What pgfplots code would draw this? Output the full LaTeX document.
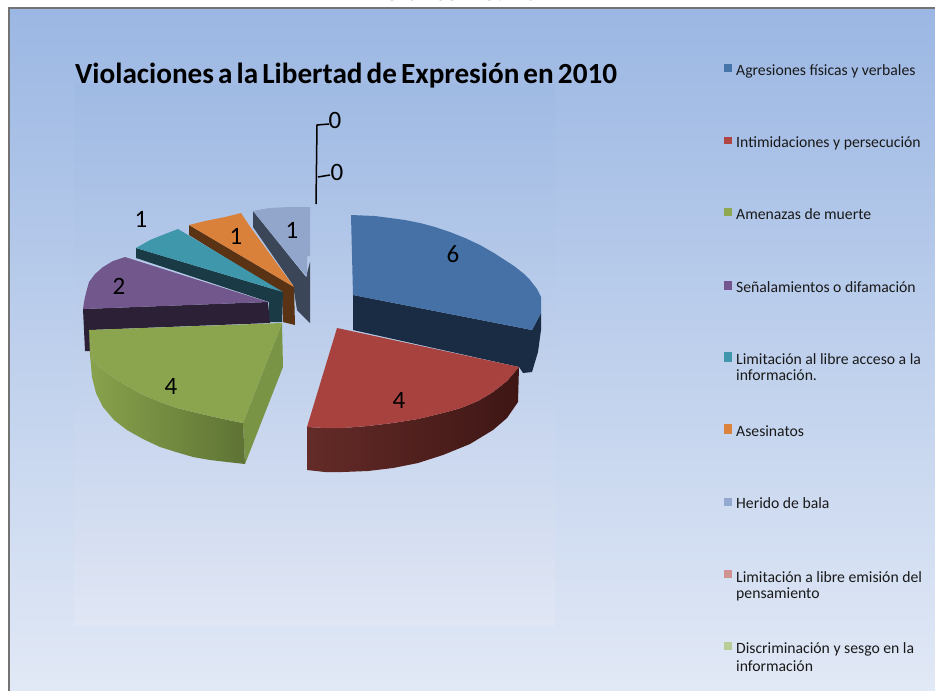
\documentclass[border=0pt]{standalone}
\usepackage{pgfplots}
\pgfplotsset{compat=1.18}
\usepackage{fontspec}
\setmainfont{Carlito}
\definecolor{pTop}{HTML}{9BB7E3}\definecolor{pBot}{HTML}{E2E9F6}
\definecolor{iTop}{HTML}{9FBAE3}\definecolor{iBot}{HTML}{E0E6F4}
\definecolor{cA}{HTML}{4571A6}\definecolor{cAs}{HTML}{1A2C43}
\definecolor{cB}{HTML}{A8423F}\definecolor{cBl}{HTML}{642B28}\definecolor{cBr}{HTML}{3E1614}
\definecolor{cC}{HTML}{8AA54E}\definecolor{cCl}{HTML}{88A24C}\definecolor{cCr}{HTML}{5E7334}\definecolor{cCf}{HTML}{7A9445}
\definecolor{cD}{HTML}{72578D}\definecolor{cDs}{HTML}{2C2037}
\definecolor{cE}{HTML}{3F97AB}\definecolor{cEs}{HTML}{1A3B46}
\definecolor{cF}{HTML}{D9803A}\definecolor{cFs}{HTML}{5A3314}
\definecolor{cG}{HTML}{92A5CB}\definecolor{cGs}{HTML}{3B4759}
\definecolor{lA}{HTML}{4674A8}\definecolor{lB}{HTML}{B04644}\definecolor{lC}{HTML}{8FA854}
\definecolor{lD}{HTML}{75558F}\definecolor{lE}{HTML}{4196AB}\definecolor{lF}{HTML}{DB843D}
\definecolor{lG}{HTML}{93A9CF}\definecolor{lH}{HTML}{D19392}\definecolor{lI}{HTML}{B9CD96}
\newcommand{\swatch}[3]{\addplot[fill=#1,draw=none] coordinates {(724,#2) (732,#2) (732,#3) (724,#3)} --cycle;}
\newcommand{\leg}[3]{\node[anchor=base west,inner sep=0pt,font=\fontsize{15.7}{18}\selectfont,text=black!90] at (axis cs:#1,#2+1) {#3};}
\newcommand{\val}[3]{\node[anchor=center,inner sep=0pt,font=\fontsize{25}{28}\selectfont] at (axis cs:#1,#2) {#3};}
\begin{document}
\begin{tikzpicture}
\useasboundingbox (0,0) rectangle (935pt,691pt);
\clip (0,0) rectangle (935pt,691pt);
\begin{axis}[at={(0,0)},anchor=south west,scale only axis,width=935pt,height=691pt,
  xmin=0,xmax=935,ymin=0,ymax=691,y dir=reverse,hide axis,clip=false]
% panel
\addplot[draw=gray!90!black,line width=2pt,top color=pTop,bottom color=pBot] coordinates {(9,8) (940,8) (940,696) (9,696)} --cycle;
\addplot[draw=none,top color=iTop,bottom color=iBot] coordinates {(74,84) (555,84) (555,625) (74,625)} --cycle;
% Herido de bala
\addplot[fill=cGs,draw=none] coordinates {(253,211) (253,227) (293,285) (297,310) (310,323) (310,262) (306,277)} --cycle;
\addplot[fill=cG,draw=none] coordinates {(253,211) (269,208) (290,207) (310,207) (310,256) (307,256) (307,277)} --cycle;
% Asesinatos
\addplot[fill=cFs,draw=none] coordinates {(189,225) (189,235) (282,293) (283,322) (295,325) (294,287)} --cycle;
\addplot[fill=cF,draw=none] coordinates {(189,225) (205,221) (225,217) (241,213) (251,228) (294,287)} --cycle;
% Limitacion acceso
\addplot[fill=cEs,draw=none] coordinates {(136,248) (136,258) (269,302) (269,322) (282,322) (283,292)} --cycle;
\addplot[fill=cE,draw=none] coordinates {(136,248) (150,240) (165,234) (178,229) (283,292)} --cycle;
% Senalamientos
\addplot[fill=cDs,draw=none] coordinates {(83,309) (268,302) (270,323) (90,330) (90,351) (85,351)} --cycle;
\addplot[fill=cD,draw=none] coordinates {(83,309) (84,302) (85,297) (87,289) (89,282) (95,274) (103,267) (113,261) (125,257) (268,302)} --cycle;
% Amenazas
\addplot[fill=cCf,draw=none] coordinates {(282,323) (243,423) (245,464) (283,367)} --cycle;
\addplot[draw=none,left color=cCl,right color=cCr] coordinates {(89,330) (90,355) (92,377) (96,393) (103,407) (114,420) (127,430) (143,439) (160,447) (176,452) (193,457) (210,460) (227,462) (245,464) (243,423) (228,420) (210,416) (193,412) (177,408) (160,402) (143,395) (125,385) (110,375) (100,368) (93,360) (91,347)} --cycle;
\addplot[fill=cC,draw=none] coordinates {(282,323) (89,330) (91,347) (93,360) (100,368) (110,375) (125,385) (143,395) (160,402) (177,408) (193,412) (210,416) (228,420) (243,423)} --cycle;
% Agresiones
\addplot[fill=cAs,draw=none] coordinates {(353,295) (353,330) (519,367) (523,373) (532,372) (538,352) (541,330) (541,313) (532,330)} --cycle;
\addplot[fill=cA,draw=none] coordinates {(351,215) (375,216) (405,220) (420,223) (435,227) (450,232) (465,238) (480,245) (494,253) (514,266) (523,273) (530,280) (537,289) (541,297) (541,313) (532,330) (353,295)} --cycle;
% Intimidaciones
\addplot[draw=none,left color=cBl,right color=cBr] coordinates {(307,427) (307,470) (325,472) (343,472) (368,471) (393,468) (418,463) (443,455) (470,444) (493,430) (507,418) (518,402) (519,367) (507,381) (493,392) (478,401) (461,408) (443,413) (418,419) (393,423) (368,426) (343,428) (325,428)} --cycle;
\addplot[fill=cB,draw=none] coordinates {(337,328) (519,367) (507,381) (493,392) (478,401) (461,408) (443,413) (418,419) (393,423) (368,426) (343,428) (325,428) (307,427)} --cycle;
% leaders
\addplot[black,line width=1.5pt] coordinates {(329,124) (317,125) (316,204)};
\addplot[black,line width=1.5pt] coordinates {(330,175) (318,177)};
% data labels
\val{335}{120}{0}\val{337}{172}{0}
\val{453}{254}{6}\val{399}{400}{4}\val{171}{386}{4}\val{119}{286}{2}
\val{141}{219}{1}\val{236}{236}{1}\val{292}{230}{1}
% titles
\node[anchor=base west,inner sep=0pt,font=\fontsize{29.2}{32}\selectfont\bfseries] at (axis cs:75,83) {\spaceskip=0.14em\relax Violaciones a la Libertad de Expresión en 2010};
\node[anchor=base,inner sep=0pt,font=\fontsize{26}{28}\selectfont\bfseries] at (axis cs:460,0.3) {Gráfico No. 10};
% legend
\swatch{lA}{64}{72}\leg{736}{74}{Agresiones físicas y verbales}
\swatch{lB}{137}{144}\leg{736}{146}{Intimidaciones y persecución}
\swatch{lC}{208}{216}\leg{736}{218}{Amenazas de muerte}
\swatch{lD}{281}{290}\leg{736}{291}{Señalamientos o difamación}
\swatch{lE}{352}{362}\leg{736}{363}{Limitación al libre acceso a la}\leg{736}{379}{información.}
\swatch{lF}{424}{434}\leg{736}{435}{Asesinatos}
\swatch{lG}{498}{506}\leg{736}{507}{Herido de bala}
\swatch{lH}{570}{578}\leg{736}{581}{Limitación a libre emisión del}\leg{736}{597}{pensamiento}
\swatch{lI}{642}{650}\leg{736}{652}{Discriminación y sesgo en la}\leg{736}{670}{información}
\end{axis}
\end{tikzpicture}
\end{document}
